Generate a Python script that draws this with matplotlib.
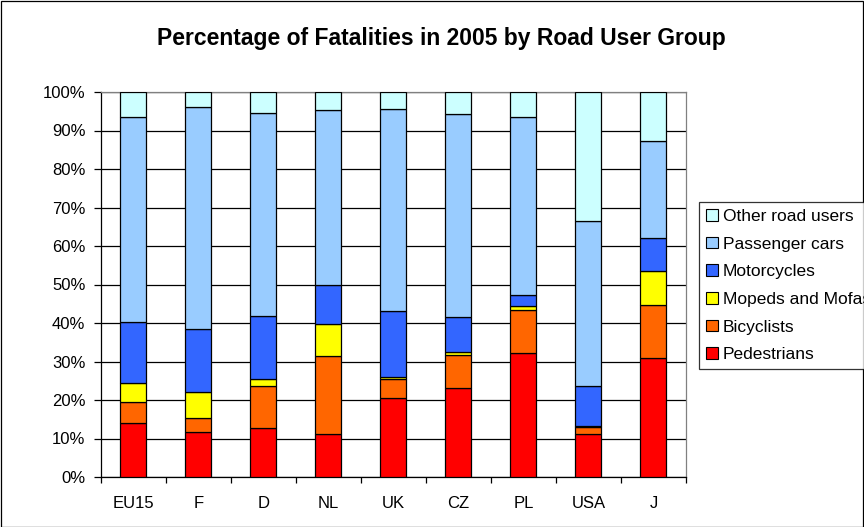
import matplotlib
matplotlib.use("Agg")
import matplotlib.pyplot as plt
import numpy as np
from matplotlib.patches import Rectangle, Patch
from matplotlib.ticker import FixedLocator

plt.rcParams['font.family'] = ['Liberation Sans', 'DejaVu Sans']

categories = ["EU15", "F", "D", "NL", "UK", "CZ", "PL", "USA", "J"]
pedestrians = [13.9, 11.7, 12.6, 11.1, 20.6, 23.2, 32.3, 11.1, 30.8]
bicyclists = [5.6, 3.5, 11.0, 20.2, 4.8, 8.6, 11.1, 1.9, 13.9]
mopeds = [5.0, 6.8, 1.8, 8.4, 0.6, 0.7, 0.9, 0.2, 8.9]
motorcycles = [15.8, 16.4, 16.4, 10.3, 17.0, 9.1, 2.9, 10.4, 8.4]
cars = [53.1, 57.8, 52.8, 45.2, 52.7, 52.7, 46.2, 42.8, 25.2]
others = [6.6, 3.8, 5.4, 4.8, 4.3, 5.7, 6.6, 33.6, 12.8]

series = [
    ("Pedestrians", pedestrians, "#FF0000"),
    ("Bicyclists", bicyclists, "#FF6600"),
    ("Mopeds and Mofas", mopeds, "#FFFF00"),
    ("Motorcycles", motorcycles, "#3366FF"),
    ("Passenger cars", cars, "#99CCFF"),
    ("Other road users", others, "#CCFFFF"),
]

fig = plt.figure(figsize=(8.64, 5.27), dpi=100)
ax = fig.add_axes([100.7/864, 1-477/527, (686-100.7)/864, (477-92)/527])

x = np.arange(len(categories))
bottom = np.zeros(len(categories))
handles = []
for name, vals, col in series:
    v = np.array(vals, dtype=float)
    ax.bar(x, v, width=0.4, bottom=bottom, color=col, edgecolor="black",
           linewidth=0.9, zorder=3)
    bottom += v
    handles.append(Patch(facecolor=col, edgecolor="black", linewidth=0.8, label=name))

ax.set_xlim(-0.5, len(categories) - 0.5)
ax.set_ylim(0, 100)
ax.set_yticks(np.arange(0, 101, 10))
ax.set_yticklabels([f"{v}%" for v in range(0, 101, 10)], fontsize=12)
ax.yaxis.grid(True, color="black", linewidth=0.9, zorder=0)
ax.set_axisbelow(True)
ax.set_xticks(x)
ax.set_xticklabels(categories, fontsize=12)
ax.tick_params(axis="x", which="major", length=0, pad=14)
ax.xaxis.set_minor_locator(FixedLocator(np.arange(-0.5, len(categories), 1.0)))
ax.tick_params(axis="x", which="minor", length=4.5, direction="out", width=0.9)
ax.tick_params(axis="y", length=5, direction="out", width=0.9, pad=6)

for s in ["top", "right"]:
    ax.spines[s].set_color("#808080")
    ax.spines[s].set_linewidth(0.9)
for s in ["left", "bottom"]:
    ax.spines[s].set_color("black")
    ax.spines[s].set_linewidth(0.9)

fig.suptitle("Percentage of Fatalities in 2005 by Road User Group",
             x=441.7/864, y=1-38/527, va="center", fontsize=16.5, fontweight="bold")

leg = fig.legend(handles=handles[::-1], loc="upper left",
                 bbox_to_anchor=(699/864, 1-202/527), fontsize=12.5,
                 frameon=True, fancybox=False, edgecolor="black",
                 handlelength=0.67, handleheight=0.67, handletextpad=0.3,
                 labelspacing=0.73, borderpad=0.4, borderaxespad=0)
leg.get_frame().set_linewidth(0.9)

fig.patches.append(Rectangle((0.5/864, 0.5/527), 1-1.5/864, 1-1.5/527,
                             transform=fig.transFigure, fill=False,
                             edgecolor="black", linewidth=0.9))

fig.savefig("out.png", dpi=100)
